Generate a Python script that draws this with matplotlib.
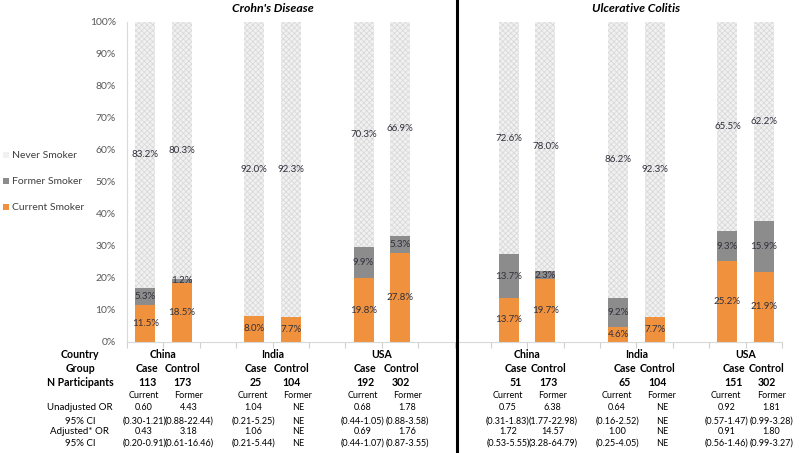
import matplotlib
matplotlib.use("Agg")
import matplotlib.pyplot as plt
from matplotlib.patches import Rectangle
from matplotlib.lines import Line2D
import matplotlib.transforms as mtransforms
import numpy as np

plt.rcParams['font.family'] = ['Lato', 'DejaVu Sans']
plt.rcParams['hatch.linewidth'] = 0.6

# ---------------- data ----------------
diseases = ["Crohn's Disease", "Ulcerative Colitis"]
countries = ["China", "India", "USA"]
groups = ["Case", "Control"]
series_names = ["Never Smoker", "Former Smoker", "Current Smoker"]

# order: China case, China control, India case, India control, USA case, USA control
cd_current = [11.5, 18.5, 8.0, 7.7, 19.8, 27.8]
cd_former = [5.3, 1.2, 0.0, 0.0, 9.9, 5.3]
cd_never = [83.2, 80.3, 92.0, 92.3, 70.3, 66.9]
uc_current = [13.7, 19.7, 4.6, 7.7, 25.2, 21.9]
uc_former = [13.7, 2.3, 9.2, 0.0, 9.3, 15.9]
uc_never = [72.6, 78.0, 86.2, 92.3, 65.5, 62.2]

cd_n = [113, 173, 25, 104, 192, 302]
uc_n = [51, 173, 65, 104, 151, 302]

or_columns = ["Current", "Former"]
cd_unadj_or = ["0.60", "4.43", "1.04", "NE", "0.68", "1.78"]
cd_unadj_ci = ["(0.30-1.21)", "(0.88-22.44)", "(0.21-5.25)", "NE", "(0.44-1.05)", "(0.88-3.58)"]
cd_adj_or = ["0.43", "3.18", "1.06", "NE", "0.69", "1.76"]
cd_adj_ci = ["(0.20-0.91)", "(0.61-16.46)", "(0.21-5.44)", "NE", "(0.44-1.07)", "(0.87-3.55)"]
uc_unadj_or = ["0.75", "6.38", "0.64", "NE", "0.92", "1.81"]
uc_unadj_ci = ["(0.31-1.83)", "(1.77-22.98)", "(0.16-2.52)", "NE", "(0.57-1.47)", "(0.99-3.28)"]
uc_adj_or = ["1.72", "14.57", "1.00", "NE", "0.91", "1.80"]
uc_adj_ci = ["(0.53-5.55)", "(3.28-64.79)", "(0.25-4.05)", "NE", "(0.56-1.46)", "(0.99-3.27)"]

row_labels = ["Country", "Group", "N Participants", "Unadjusted OR", "95% CI", "Adjusted* OR", "95% CI"]
y_ticks = list(range(0, 101, 10))

# ---------------- styling ----------------
C_CURRENT = "#F0913E"
C_FORMER = "#8C8C8C"
C_NEVER = "#F1F1F1"
C_NEVER_HATCH = "#D9D9D9"
LABEL_COLOR = "#30303C"
W, H = 800, 453

fig = plt.figure(figsize=(W / 100, H / 100), dpi=100)
ax = fig.add_axes([127 / W, 1 - 341.7 / H, (782 - 127) / W, (341.7 - 22) / H])

bw = 0.55
all_current = [cd_current, uc_current]
all_former = [cd_former, uc_former]
all_never = [cd_never, uc_never]

positions = []
for d in range(2):
    pos_d = []
    for c in range(3):
        for g in range(2):
            pos_d.append(d * 10 + c * 3 + g)
    positions.append(pos_d)

for d in range(2):
    x = np.array(positions[d])
    cur = np.array(all_current[d])
    frm = np.array(all_former[d])
    nev = np.array(all_never[d])
    ax.bar(x, cur, width=bw, color=C_CURRENT, linewidth=0, zorder=2)
    ax.bar(x, frm, width=bw, bottom=cur, color=C_FORMER, linewidth=0, zorder=2)
    ax.bar(x, nev, width=bw, bottom=cur + frm, facecolor=C_NEVER,
           edgecolor=C_NEVER_HATCH, hatch="xxxxxx", linewidth=0, zorder=2)
    for xi, a, b, n in zip(x, cur, frm, nev):
        kw = dict(ha="center", va="center", fontsize=7, color=LABEL_COLOR, zorder=5)
        if a > 0:
            ax.text(xi, a / 2, f"{a:.1f}%", **kw)
        if b > 0:
            ax.text(xi, a + b / 2, f"{b:.1f}%", **kw)
        ax.text(xi, a + b + n / 2, f"{n:.1f}%", **kw)

ax.set_xlim(-0.5, 17.5)
ax.set_ylim(0, 100)
ax.set_yticks(y_ticks)
ax.set_yticklabels([f"{t}%" for t in y_ticks])
ax.set_xticks(np.arange(-0.5, 17.6, 1.0))
ax.set_xticklabels([])
ax.tick_params(axis="x", length=4, color="#D0D0D0", width=0.8)
ax.tick_params(axis="y", length=0, labelsize=7.5, labelcolor="#595959", pad=8)
for s in ["top", "right"]:
    ax.spines[s].set_visible(False)
for s in ["left", "bottom"]:
    ax.spines[s].set_color("#D9D9D9")
    ax.spines[s].set_linewidth(0.8)

# titles
tt = mtransforms.blended_transform_factory(ax.transData, fig.transFigure)
for d in range(2):
    ax.text(d * 10 + 3.5, 1 - 8 / H, diseases[d], transform=tt,
            ha="center", va="center", fontsize=8.8, fontweight="bold", style="italic", color="#000000")

# divider line
fig.add_artist(Line2D([456.7 / W, 456.7 / W], [0, 1], transform=fig.transFigure, color="black", lw=2.2))

# legend (manual)
leg_y = [155, 181, 207]
leg_col = [C_NEVER, C_FORMER, C_CURRENT]
for name, yy, col in zip(series_names, leg_y, leg_col):
    r = Rectangle((3 / W, 1 - (yy + 3) / H), 6 / W, 6 / H, transform=fig.transFigure,
                  facecolor=col, edgecolor="none")
    fig.add_artist(r)
    fig.text(12 / W, 1 - yy / H, name, ha="left", va="center", fontsize=7.5, color="#404040")

# table below
bt = tt
def fy(py):
    return 1 - py / H

row_y = [355, 368, 382, 408, 421.5, 431.5, 443.5]
col_y = 395
for lab, yy, i in zip(row_labels, row_y, range(len(row_labels))):
    bold = i < 3
    fig.text(80 / W, fy(yy), lab, ha="center", va="center", fontsize=7.6 if bold else 7.0,
             fontweight="bold" if bold else "normal", color="#000000")

all_n = [cd_n, uc_n]
all_uo = [cd_unadj_or, uc_unadj_or]
all_uc = [cd_unadj_ci, uc_unadj_ci]
all_ao = [cd_adj_or, uc_adj_or]
all_ac = [cd_adj_ci, uc_adj_ci]
case_shift = [0.05, 0.18]
ctrl_shift = [0.03, 0.08]
SMALL = 6.5
for d in range(2):
    for c in range(3):
        base = d * 10 + c * 3
        ax.text(base + 0.5, fy(row_y[0]), countries[c], transform=bt, ha="center", va="center",
                fontsize=7.6, fontweight="bold")
        for g in range(2):
            i = c * 2 + g
            gx = base + g + (case_shift[d] if g == 0 else ctrl_shift[d])
            ax.text(gx, fy(row_y[1]), groups[g], transform=bt, ha="center", va="center",
                    fontsize=7.6, fontweight="bold")
            ax.text(gx, fy(row_y[2]), str(all_n[d][i]), transform=bt, ha="center", va="center",
                    fontsize=7.6, fontweight="bold")
            ox = base + g + (-0.03 if g == 0 else 0.2)
            ax.text(ox, fy(col_y), or_columns[g], transform=bt, ha="center", va="center", fontsize=SMALL)
            ax.text(ox, fy(row_y[3]), all_uo[d][i], transform=bt, ha="center", va="center", fontsize=SMALL)
            ax.text(ox, fy(row_y[4]), all_uc[d][i], transform=bt, ha="center", va="center", fontsize=SMALL)
            ax.text(ox, fy(row_y[5]), all_ao[d][i], transform=bt, ha="center", va="center", fontsize=SMALL)
            ax.text(ox, fy(row_y[6]), all_ac[d][i], transform=bt, ha="center", va="center", fontsize=SMALL)

fig.savefig("out.png", dpi=100)
